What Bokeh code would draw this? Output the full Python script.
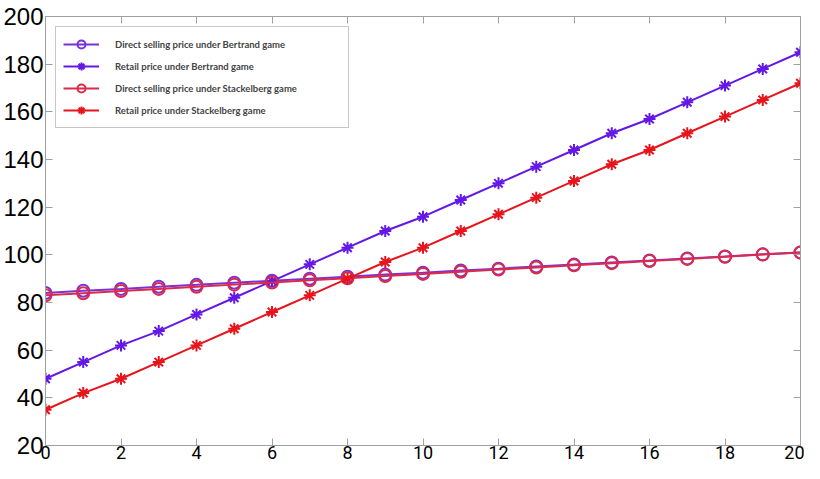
from bokeh.plotting import figure
from bokeh.models import Range1d, LinearAxis, FixedTicker, Legend, LegendItem
from bokeh.embed import file_html
from bokeh.resources import INLINE

x = list(range(0, 21))
direct_bertrand = [84.0, 84.9, 85.7, 86.6, 87.4, 88.3, 89.1, 90.0, 90.8, 91.7, 92.5,
                   93.4, 94.2, 95.1, 95.9, 96.8, 97.6, 98.5, 99.3, 100.2, 101.0]
retail_bertrand = [48, 55, 62, 68, 75, 82, 89, 96, 103, 110, 116,
                   123, 130, 137, 144, 151, 157, 164, 171, 178, 185]
direct_stackelberg = [83.0, 83.9, 84.8, 85.7, 86.6, 87.5, 88.4, 89.3, 90.2, 91.1, 92.0,
                      92.9, 93.8, 94.7, 95.6, 96.5, 97.4, 98.3, 99.2, 100.1, 101.0]
retail_stackelberg = [35, 42, 48, 55, 62, 69, 76, 83, 90, 97, 103,
                      110, 117, 124, 131, 138, 144, 151, 158, 165, 172]
labels = ["Direct selling price under Bertrand game",
          "Retail price under Bertrand game",
          "Direct selling price under Stackelberg game",
          "Retail price under Stackelberg game"]
x_ticks = list(range(0, 21, 2))
y_ticks = list(range(20, 201, 20))

p = figure(width=804, height=463, output_backend="svg", toolbar_location=None,
           x_range=Range1d(0, 20), y_range=Range1d(20, 200),
           min_border_left=45, min_border_right=4, min_border_top=16, min_border_bottom=18)
p.grid.visible = False
p.outline_line_color = "#a0a0a0"
p.background_fill_color = "white"

def style(ax, ticks, labels_on=True, size="20px", font="Liberation Sans"):
    ax.ticker = FixedTicker(ticks=ticks)
    ax.axis_line_color = "#a0a0a0"
    ax.major_tick_line_color = "#a0a0a0"
    ax.major_tick_in = 7
    ax.major_tick_out = 0
    ax.minor_tick_line_color = None
    ax.major_label_text_font = font
    ax.major_label_text_font_size = size
    ax.major_label_text_color = "black"
    if not labels_on:
        ax.major_label_overrides = {t: "" for t in ticks}
        ax.major_label_standoff = 0

style(p.xaxis[0], x_ticks, size="18px", font="Roboto")
style(p.yaxis[0], y_ticks, size="24px")
p.xaxis.major_label_standoff = 0
p.yaxis.major_label_standoff = 2

top = LinearAxis()
style(top, x_ticks, labels_on=False, size="1px")
right = LinearAxis()
style(right, y_ticks, labels_on=False, size="1px")
p.add_layout(top, "above")
p.add_layout(right, "right")

c_db = "#7a32d8"
c_rb = "#6418e6"
c_ds = "#dc2a4a"
c_rs = "#e8141c"

l1 = p.line(x, direct_bertrand, line_color=c_db, line_width=2)
m1 = p.scatter(x, direct_bertrand, marker="circle", size=12, line_color=c_db, line_width=2, fill_color=None)
l2 = p.line(x, retail_bertrand, line_color=c_rb, line_width=2)
m2 = p.scatter(x, retail_bertrand, marker="asterisk", size=12, line_color=c_rb, line_width=2)
l3 = p.line(x, direct_stackelberg, line_color=c_ds, line_width=2)
m3 = p.scatter(x, direct_stackelberg, marker="circle", size=12, line_color=c_ds, line_width=2, fill_color=None)
l4 = p.line(x, retail_stackelberg, line_color=c_rs, line_width=2)
m4 = p.scatter(x, retail_stackelberg, marker="asterisk", size=12, line_color=c_rs, line_width=2)

legend = Legend(items=[LegendItem(label=labels[0], renderers=[l1, m1]),
                       LegendItem(label=labels[1], renderers=[l2, m2]),
                       LegendItem(label=labels[2], renderers=[l3, m3]),
                       LegendItem(label=labels[3], renderers=[l4, m4])],
                location="top_left")
legend.label_text_font = "Lato"
legend.label_text_font_style = "bold"
legend.label_text_font_size = "9.5px"
legend.label_standoff = 16
legend.label_width = 226
legend.glyph_width = 36
legend.glyph_height = 20
legend.label_height = 20
legend.spacing = 2
legend.padding = 7
legend.margin = 10
legend.border_line_color = "#909090"
legend.border_line_width = 1
legend.background_fill_alpha = 1
p.add_layout(legend)

open("out.html", "w").write(file_html(p, INLINE))
